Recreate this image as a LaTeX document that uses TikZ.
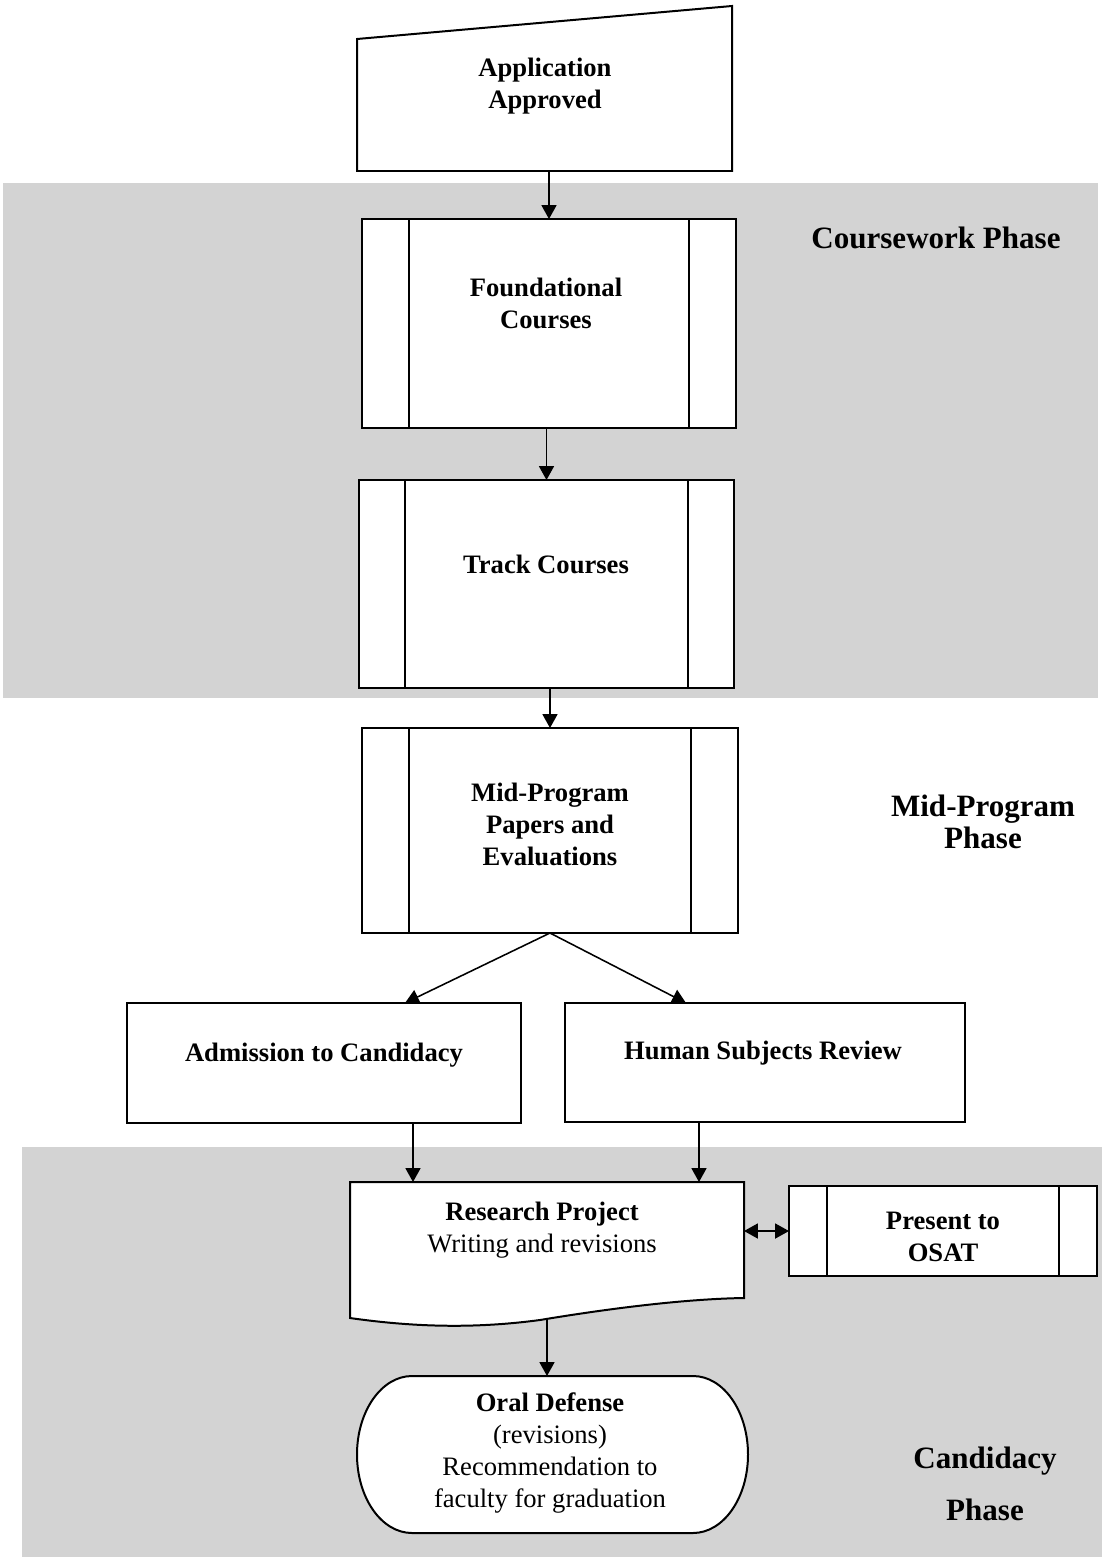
\documentclass[tikz,border=0pt]{standalone}
\usepackage{fontspec}
\setmainfont{Liberation Serif}
\usetikzlibrary{arrows.meta,calc,fit,positioning}
\definecolor{phasegray}{RGB}{211,211,211}

\begin{document}
\begin{tikzpicture}[
  x=0.451pt, y=-0.451pt,
  boxtext/.style={align=center, font=\fontsize{12}{14.4}\selectfont\bfseries, inner sep=0pt},
  phaselabel/.style={align=center, font=\fontsize{14}{14.2}\selectfont\bfseries, inner sep=0pt},
  boxline/.style={draw, line width=0.9pt, fill=white, inner sep=0pt, outer sep=0pt},
  shapeonly/.style={inner sep=0pt, outer sep=0pt},
  procbox/.style={boxline, path picture={
      \draw[line width=0.9pt] ($(path picture bounding box.north west)+(#1,0)$) -- ($(path picture bounding box.south west)+(#1,0)$);
      \draw[line width=0.9pt] ($(path picture bounding box.north east)+(-#1,0)$) -- ($(path picture bounding box.south east)+(-#1,0)$);
  }},
  procbox/.default=47,
  arr/.style={line width=0.7pt, -{Triangle[length=6.3pt, width=6.8pt]}},
]
\useasboundingbox (0,0) rectangle (1102,1557);

% phase bands
\fill[phasegray] (3,183) rectangle (1098,698);
\fill[phasegray] (22,1147) rectangle (1102,1557);

% application (manual input)
\node (appl) [shapeonly, fit={(357,6) (732,171)}] {};
\draw[line width=0.9pt, fill=white]
  (appl.south west) -- ($(appl.north west)+(0,33)$) -- (appl.north east) -- (appl.south east) -- cycle;
\node (appltxt) [boxtext] at (545,86) {Application\\Approved};

% coursework phase
\node (found) [procbox, fit={(362,219) (736,428)}] {};
\node (foundtxt) [boxtext] at (546,303) {Foundational\\Courses};
\node (track) [procbox=46, fit={(359,480) (734,688)}] {};
\node (tracktxt) [boxtext] at (546,564) {Track Courses};

% mid-program phase
\node (mid) [procbox, fit={(362,728) (738,933)}] {};
\node (midtxt) [boxtext] at (550,824) {Mid-Program\\Papers and\\Evaluations};
\node (adm) [boxline, fit={(127,1003) (521,1123)}] {};
\node (admtxt) [boxtext] at (324,1055) {Admission to Candidacy};
\node (hum) [boxline, fit={(565,1003) (965,1122)}] {};
\node (humtxt) [boxtext] at (763,1053) {Human Subjects Review};

% candidacy phase
\node (research) [shapeonly, fit={(350,1182) (744,1318)}] {};
\draw[line width=0.9pt, fill=white]
  (research.south west) -- (research.north west) -- (research.north east) -- (744,1298)
  .. controls (680,1299) and (600,1310) .. (540,1320)
  .. controls (480,1328) and (420,1328) .. (research.south west) -- cycle;
\node (restxt) [boxtext] at (542,1230) {Research Project\\\mdseries Writing and revisions};
\node (osat) [procbox=38, fit={(789,1186) (1097,1276)}] {};
\node (osattxt) [boxtext] at (943,1237) {Present to\\OSAT};
\node (oral) [shapeonly, fit={(357,1376) (748,1533)}] {};
\draw[line width=0.9pt, fill=white]
  (412,1376) -- (693,1376) .. controls (723.4,1376) and (748,1411.1) .. (748,1454.5)
  .. controls (748,1497.9) and (723.4,1533) .. (693,1533) -- (412,1533)
  .. controls (381.6,1533) and (357,1497.9) .. (357,1454.5)
  .. controls (357,1411.1) and (381.6,1376) .. (412,1376) -- cycle;
\node (oraltxt) [boxtext] at (550,1453)
  {Oral Defense\\\mdseries (revisions)\\\mdseries Recommendation to\\\mdseries faculty for graduation};

% phase labels
\node (courselbl) [phaselabel] at (936,238) {Coursework Phase};
\node (midlbl) [phaselabel] at (983,822) {Mid-Program\\Phase};
\node (candlbl) [phaselabel] at (985,1484) {Candidacy\\[9pt]Phase};

% connectors
\draw[arr] (found.north |- appl.south) -- (found.north);
\draw[arr] (track.north |- found.south) -- (track.north);
\draw[arr] (mid.north |- track.south) -- (mid.north);
\draw[arr] (mid.south) -- ($(adm.north)+(81,0)$);
\draw[arr] (mid.south) -- ($(hum.north)+(-79,0)$);
\path ($(adm.south)+(89,0)$) coordinate (admout);
\path ($(hum.south)+(-66,0)$) coordinate (humout);
\draw[arr] (admout) -- (admout |- research.north);
\draw[arr] (humout) -- (humout |- research.north);
\draw[arr, {Triangle[length=6.3pt, width=6.8pt]}-{Triangle[length=6.3pt, width=6.8pt]}]
  (osat.west) -- (osat.west -| research.east);
\draw[arr] (research.south) -- (research.south |- oral.north);
\end{tikzpicture}
\end{document}
